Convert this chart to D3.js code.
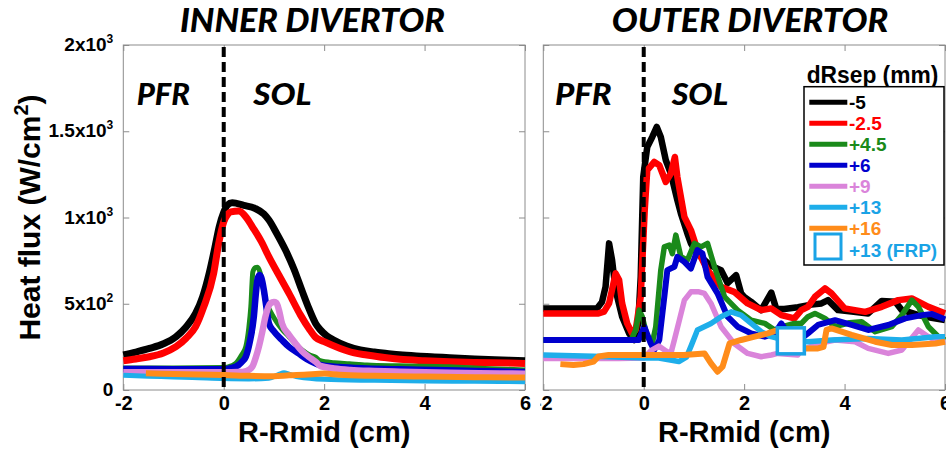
<!DOCTYPE html>
<html>
<head>
<meta charset="utf-8">
<script src="https://cdn.jsdelivr.net/npm/d3@7"></script>
<style>
  html, body { margin: 0; padding: 0; background: #fff; }
  svg { display: block; }
  .tick line { stroke: #8c8c8c; }
</style>
</head>
<body>
<svg id="chart" width="946" height="452"></svg>
<script>
// ---------------- DATA ----------------
const xTicks = [-2, 0, 2, 4, 6];
const xTickLabels = ["-2", "0", "2", "4", "6"];
const yTicks = [0, 500, 1000, 1500, 2000];
const yTickBase = ["0", "5x10", "1x10", "1.5x10", "2x10"];
const yTickExp  = ["", "2", "3", "3", "3"];
const panelTitles = ["INNER DIVERTOR", "OUTER DIVERTOR"];
const regionLabels = ["PFR", "SOL"];
const xLabel = "R-Rmid (cm)";
const yLabelMain = "Heat flux (W/cm";
const yLabelExp = "2";
const legendTitle = "dRsep (mm)";
const seriesLabels = ["-5", "-2.5", "+4.5", "+6", "+9", "+13", "+16"];
const frpLabel = "+13 (FRP)";

// Inner divertor profiles [R-Rmid (cm), heat flux (W/cm2)]
const innerM5 = [[-2,203],[-1.75,220],[-1.48,241],[-1.2,268],[-0.95,309],[-0.75,365],[-0.56,444],[-0.42,540],[-0.29,676],[-0.18,820],[-0.09,946],[0.0,1030],[0.07,1071],[0.17,1085],[0.4,1070],[0.63,1052],[0.8,1020],[0.9,985],[1.05,910],[1.23,811],[1.4,700],[1.56,575],[1.7,470],[1.83,386],[1.92,350],[2.05,315],[2.19,290],[2.45,255],[2.72,232],[3.0,220],[3.25,212],[3.5,204],[3.84,197],[4.2,192],[4.5,187],[5.0,180],[5.4,176],[5.7,173],[6.0,170]];
const innerM25 = [[-2,170],[-1.75,180],[-1.48,193],[-1.2,215],[-0.95,251],[-0.75,300],[-0.56,367],[-0.4,480],[-0.2,676],[-0.1,850],[0.0,975],[0.07,1015],[0.14,1033],[0.3,1038],[0.45,1000],[0.57,946],[0.75,860],[0.9,772],[1.1,665],[1.3,560],[1.53,434],[1.7,355],[1.83,305],[2.0,280],[2.32,241],[2.6,215],[2.85,203],[3.2,188],[3.51,178],[4.0,170],[4.5,164],[5.0,160],[5.7,156],[6.0,154]];
const innerP45 = [[-2,128],[-1,128],[0,130],[0.15,140],[0.24,154],[0.35,200],[0.44,251],[0.5,360],[0.54,483],[0.58,685],[0.63,710],[0.67,712],[0.73,676],[0.78,600],[0.83,521],[0.92,460],[1.03,405],[1.15,355],[1.3,309],[1.45,260],[1.56,232],[1.7,205],[1.83,190],[1.92,170],[2.2,158],[2.5,152],[2.85,145],[3.5,140],[4.5,135],[5.2,125],[6.0,116]];
const innerP6 = [[-2,122],[-1,121],[0,120],[0.15,128],[0.24,135],[0.35,160],[0.44,193],[0.52,280],[0.6,425],[0.64,560],[0.67,637],[0.71,666],[0.75,650],[0.8,579],[0.85,480],[0.9,386],[1.0,340],[1.16,290],[1.3,250],[1.49,212],[1.65,180],[1.83,154],[1.92,145],[2.3,133],[2.85,125],[3.5,120],[4.17,116],[5.0,110],[5.7,106],[6.0,104]];
const innerP9 = [[-2,103],[-1,103],[0,103],[0.3,104],[0.45,110],[0.57,135],[0.64,190],[0.7,251],[0.77,340],[0.83,425],[0.93,502],[1.0,510],[1.05,505],[1.1,463],[1.16,386],[1.3,320],[1.43,270],[1.56,225],[1.69,193],[1.83,164],[1.92,140],[2.2,125],[2.52,116],[3.0,110],[3.51,106],[4.5,100],[5.5,96],[6.0,94]];
const innerP13 = [[-2,85],[-1.5,80],[-1,76],[-0.5,71],[0,66],[0.5,64],[0.9,68],[1.1,90],[1.2,100],[1.3,92],[1.5,75],[2,62],[3,56],[4,52],[5,50],[6,48]];
const innerP16 = [[-1.55,97],[-1,93],[-0.5,90],[0,87],[0.5,82],[1.0,80],[1.3,85],[1.6,88],[2.0,95],[2.3,88],[3,82],[4,78],[5,74],[6,72]];

// Outer divertor profiles
const outerM5 = [[-2,473],[-0.93,473],[-0.83,511],[-0.76,598],[-0.69,850],[-0.63,753],[-0.56,579],[-0.43,425],[-0.29,328],[-0.19,290],[-0.11,386],[-0.06,656],[-0.01,1235],[0.07,1409],[0.17,1467],[0.26,1525],[0.34,1467],[0.44,1332],[0.54,1255],[0.67,1100],[0.74,1023],[0.87,907],[0.94,850],[1.07,791],[1.14,772],[1.34,720],[1.54,695],[1.67,620],[1.84,666],[1.94,560],[2.0,540],[2.14,511],[2.34,463],[2.54,565],[2.64,470],[2.8,470],[3.07,480],[3.34,495],[3.54,502],[3.67,521],[3.87,463],[4.14,455],[4.47,444],[4.74,516],[5.01,511],[5.14,463],[5.27,453],[5.47,434],[5.61,425],[6.0,405]];
const outerM25 = [[-2,444],[-0.9,444],[-0.79,454],[-0.69,502],[-0.56,676],[-0.49,637],[-0.43,502],[-0.33,386],[-0.23,328],[-0.16,348],[-0.06,540],[0.02,1043],[0.07,1274],[0.21,1322],[0.31,1303],[0.44,1206],[0.54,1255],[0.62,1351],[0.67,1235],[0.81,1004],[0.94,927],[1.07,811],[1.27,695],[1.54,598],[1.8,569],[2.07,502],[2.34,463],[2.54,473],[2.74,434],[3.0,415],[3.14,463],[3.27,482],[3.41,540],[3.61,589],[3.74,560],[4.0,473],[4.41,453],[4.74,482],[5.07,521],[5.34,531],[5.67,482],[6.0,444]];
const outerP45 = [[-2,290],[-0.25,290],[-0.16,348],[-0.09,463],[-0.03,425],[0.07,309],[0.17,270],[0.24,367],[0.34,695],[0.41,830],[0.51,840],[0.57,791],[0.64,898],[0.74,772],[0.87,753],[1.01,850],[1.14,830],[1.27,850],[1.41,714],[1.61,540],[1.87,463],[2.14,405],[2.41,386],[2.61,348],[2.8,370],[3.0,386],[3.14,386],[3.27,425],[3.41,444],[3.61,415],[3.81,367],[4.1,390],[4.34,396],[4.61,338],[4.94,367],[5.14,434],[5.34,521],[5.47,482],[5.67,367],[5.87,309],[6.0,290]];
const outerP6 = [[-2,290],[-0.1,290],[0.01,367],[0.14,270],[0.21,232],[0.31,290],[0.41,540],[0.47,695],[0.61,714],[0.67,772],[0.81,743],[0.94,704],[1.07,811],[1.17,791],[1.27,656],[1.47,560],[1.67,425],[1.87,367],[2.14,328],[2.41,309],[2.61,328],[2.74,386],[2.85,340],[3.14,299],[3.27,328],[3.47,377],[3.81,405],[4.14,377],[4.47,348],[4.87,377],[5.21,415],[5.54,434],[5.74,440],[6.0,410]];
const outerP9 = [[-2,183],[-0.5,183],[0,185],[0.15,230],[0.3,255],[0.45,225],[0.54,212],[0.61,290],[0.71,405],[0.81,521],[0.94,569],[1.1,569],[1.21,560],[1.34,502],[1.54,367],[1.8,270],[2.07,212],[2.34,193],[2.54,203],[2.67,212],[3.07,203],[3.14,232],[3.5,270],[3.81,290],[4.21,280],[4.47,241],[4.87,212],[5.14,232],[5.47,348],[5.67,309],[5.87,280],[6.0,290]];
const outerP13 = [[-2,203],[-1,195],[0,185],[0.3,185],[0.5,175],[0.7,165],[0.85,190],[0.95,260],[1.07,348],[1.34,386],[1.54,425],[1.74,453],[1.94,434],[2.14,386],[2.34,338],[2.54,309],[2.67,299],[2.93,285],[3.27,280],[3.74,290],[4.47,299],[5.14,290],[5.81,309],[6.0,309]];
const outerP16 = [[-1.66,150],[-1.4,145],[-1.2,150],[-1.0,165],[-0.9,195],[-0.7,203],[0,203],[0.8,203],[1.21,212],[1.34,154],[1.47,106],[1.57,135],[1.71,270],[1.94,290],[2.21,309],[2.47,328],[2.67,348],[2.93,300],[3.21,241],[3.47,241],[3.58,250],[3.64,348],[3.74,357],[4.14,319],[4.61,280],[4.94,261],[5.34,261],[5.81,270],[6.0,280]];
const frpPoints = [[2.93, 285]];

// ---------------- STYLE ----------------
const colors = ["#000000", "#ff0000", "#1a8a1a", "#0000cd", "#da84da", "#1eaeea", "#ff8c1a"];
const innerWidths = [7, 7, 5, 6.5, 6.5, 5, 6];
const outerWidths = [6.5, 6.5, 5.5, 6, 5.5, 5.5, 6];
const frpColor = "#1aa3e6";
const axisColor = "#8c8c8c";
const sansBold = "'Liberation Sans', Arial, sans-serif";
const titleFont = "Lato, 'Open Sans', sans-serif";

const svg = d3.select("#chart");
const H = { top: 45, bottom: 390 };
const y = d3.scaleLinear().domain([0, 2000]).range([H.bottom, H.top]);

const panels = [
  { x0: 123.3, x1: 525, data: [innerM5, innerM25, innerP45, innerP6, innerP9, innerP13, innerP16], widths: innerWidths, curve: d3.curveMonotoneX, yLabels: true, title: panelTitles[0], titleX: 312.5, titleLen: 265, pfr: [136.7, 53.3], sol: [253.3, 58.4] },
  { x0: 543.3, x1: 945, data: [outerM5, outerM25, outerP45, outerP6, outerP9, outerP13, outerP16], widths: outerWidths, curve: d3.curveLinear, yLabels: false, title: panelTitles[1], titleX: 750, titleLen: 276.6, pfr: [555, 56.7], sol: [671.7, 56.6] }
];

svg.append("defs").append("clipPath").attr("id", "rightClip")
  .append("rect").attr("x", 540.5).attr("y", 0).attr("width", 406).attr("height", 452);

panels.forEach((p, pi) => {
  const x = d3.scaleLinear().domain([-2, 6]).range([p.x0, p.x1]);
  const g = svg.append("g");
  if (pi === 1) g.attr("clip-path", "url(#rightClip)");

  // box
  g.append("rect").attr("x", p.x0).attr("y", H.top).attr("width", p.x1 - p.x0).attr("height", H.bottom - H.top)
    .attr("fill", "none").attr("stroke", axisColor).attr("stroke-width", 1);

  // axes
  const ax = g.append("g").attr("transform", `translate(0,${H.bottom})`)
    .call(d3.axisBottom(x).tickValues(xTicks).tickSizeInner(-6).tickSizeOuter(0).tickPadding(6)
      .tickFormat((d, i) => xTickLabels[i]));
  ax.select(".domain").remove();
  ax.selectAll("text").attr("font-family", sansBold).attr("font-weight", "bold").attr("font-size", 20).attr("fill", "#000");

  const axT = g.append("g").attr("transform", `translate(0,${H.top})`)
    .call(d3.axisTop(x).tickValues(xTicks).tickSizeInner(-6).tickSizeOuter(0).tickFormat(""));
  axT.select(".domain").remove();

  const axL = g.append("g").attr("transform", `translate(${p.x0},0)`)
    .call(d3.axisLeft(y).tickValues(yTicks).tickSizeInner(-6).tickSizeOuter(0).tickPadding(10).tickFormat(""));
  axL.select(".domain").remove();
  if (p.yLabels) {
    axL.selectAll(".tick text").each(function(d, i) {
      const t = d3.select(this).text(null)
        .attr("font-family", sansBold).attr("font-weight", "bold").attr("font-size", 19).attr("fill", "#000")
        .attr("dy", "0.3em");
      t.append("tspan").text(yTickBase[i]);
      if (yTickExp[i]) t.append("tspan").attr("font-size", 12).attr("dy", -8).text(yTickExp[i]);
    });
  }
  const axR = g.append("g").attr("transform", `translate(${p.x1},0)`)
    .call(d3.axisRight(y).tickValues(yTicks).tickSizeInner(-6).tickSizeOuter(0).tickFormat(""));
  axR.select(".domain").remove();

  // lines
  const line = d3.line().x(d => x(d[0])).y(d => y(d[1])).curve(p.curve);
  const lg = g.append("g");
  p.data.forEach((s, i) => {
    lg.append("path").datum(s).attr("d", line).attr("fill", "none")
      .attr("stroke", colors[i]).attr("stroke-width", p.widths[i])
      .attr("stroke-linejoin", "round").attr("stroke-linecap", "butt");
  });

  if (pi === 1) {
    g.selectAll(".frp").data(frpPoints).enter().append("rect")
      .attr("x", d => x(d[0]) - 13.5).attr("y", d => y(d[1]) - 13)
      .attr("width", 27).attr("height", 26)
      .attr("fill", "#fff").attr("stroke", frpColor).attr("stroke-width", 3.5);
  }

  // separatrix
  g.append("line").attr("x1", x(0)).attr("x2", x(0)).attr("y1", 47).attr("y2", 388)
    .attr("stroke", "#000").attr("stroke-width", 4).attr("stroke-dasharray", "10,5");

  // labels
  g.append("text").attr("x", x(2)).attr("y", 442).attr("text-anchor", "middle")
    .attr("font-family", sansBold).attr("font-weight", "bold").attr("font-size", 29).text(xLabel);

  svg.append("text").attr("x", p.titleX - p.titleLen / 2).attr("y", 31.7)
    .attr("textLength", p.titleLen).attr("lengthAdjust", "spacingAndGlyphs")
    .attr("font-family", titleFont).attr("font-weight", 900).attr("font-style", "italic").attr("font-size", 32)
    .text(p.title);
  svg.append("text").attr("x", p.pfr[0]).attr("y", 105)
    .attr("textLength", p.pfr[1]).attr("lengthAdjust", "spacingAndGlyphs")
    .attr("font-family", titleFont).attr("font-weight", 900).attr("font-style", "italic").attr("font-size", 30)
    .text(regionLabels[0]);
  svg.append("text").attr("x", p.sol[0]).attr("y", 105)
    .attr("textLength", p.sol[1]).attr("lengthAdjust", "spacingAndGlyphs")
    .attr("font-family", titleFont).attr("font-weight", 900).attr("font-style", "italic").attr("font-size", 30)
    .text(regionLabels[1]);
});

// y label
const yl = svg.append("text").attr("transform", "translate(40,217.5) rotate(-90)").attr("text-anchor", "middle")
  .attr("font-family", sansBold).attr("font-weight", "bold").attr("font-size", 30);
yl.append("tspan").text(yLabelMain);
yl.append("tspan").attr("font-size", 20).attr("dy", -12).text(yLabelExp);
yl.append("tspan").attr("dy", 12).text(")");

// legend
const leg = svg.append("g");
leg.append("text").attr("x", 806.7).attr("y", 83).attr("font-family", sansBold).attr("font-weight", "bold")
  .attr("font-size", 23).attr("textLength", 131.6).attr("lengthAdjust", "spacingAndGlyphs").text(legendTitle);
leg.append("rect").attr("x", 804).attr("y", 86.7).attr("width", 140).attr("height", 178.3)
  .attr("fill", "#fff").attr("stroke", "#000").attr("stroke-width", 1.5);
const legY0 = 102.3, legDy = 21;
seriesLabels.forEach((lab, i) => {
  const ly = legY0 + i * legDy;
  leg.append("line").attr("x1", 809.3).attr("x2", 847.3).attr("y1", ly).attr("y2", ly)
    .attr("stroke", colors[i]).attr("stroke-width", 5);
  leg.append("text").attr("x", 849).attr("y", ly + 7).attr("font-family", sansBold).attr("font-weight", "bold")
    .attr("font-size", 19).attr("fill", i === 5 ? frpColor : colors[i]).text(lab);
});
leg.append("rect").attr("x", 815).attr("y", 234).attr("width", 26).attr("height", 25)
  .attr("fill", "#fff").attr("stroke", frpColor).attr("stroke-width", 3);
leg.append("text").attr("x", 849).attr("y", 256.7).attr("font-family", sansBold).attr("font-weight", "bold")
  .attr("font-size", 19).attr("fill", frpColor).text(frpLabel);
</script>
</body>
</html>
